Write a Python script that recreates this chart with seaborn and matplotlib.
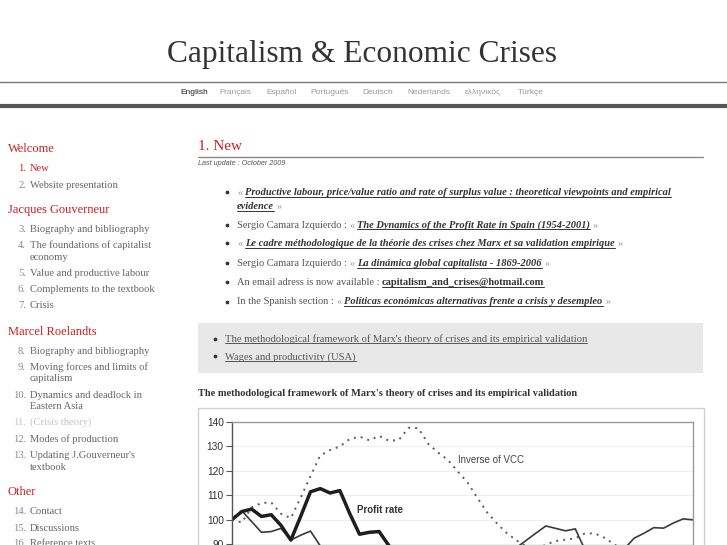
import pandas as pd
import seaborn as sns
from matplotlib import pyplot as plt
from matplotlib.lines import Line2D
from matplotlib.patches import Rectangle

periods = list(range(48))
profit_rate = [100, 103.3, 104.3, 101.3, 102, 97.6, 91.6, 101.3, 111.4, 112.7,
               110.9, 111.9, 102.5, 94, 94.8, 95.1, 89.3, 86, 84.5, 85,
               83, 81, 80, 79, 78, 77, 76, 77, 78, 79,
               81, 83, 86, 86, 85, 86, 82, 81, 79, 78,
               79, 81, 82, 83, 82, 83, 84, 83]
inverse_vcc = [100, 98.8, 105, 106.8, 107, 102.4, 100.6, 109, 117.8, 126.3,
               128.5, 130, 133, 134, 132.5, 134.3, 132.3, 132.6, 137.6, 137.5,
               131.1, 127.5, 124.5, 119.8, 115.3, 109, 103, 98.5, 94.5, 91.5,
               89, 87.5, 89.8, 91.2, 91.8, 92.3, 94.4, 94.3, 92.5, 89.8,
               87, 86, 85, 84.5, 84, 83.5, 83, 82]
surplus_rate = [100, 103.6, 99.2, 94.8, 95.1, 96.4, 91.6, 93.6, 95.3, 89.2,
                87, 86, 85.5, 83, 84, 83.5, 84, 83, 82, 83,
                84, 83, 84, 85, 86, 87, 87.5, 87, 86, 88.5,
                91.5, 94.5, 97.4, 96.4, 95.4, 96.2, 87.5, 86, 85.5, 85,
                88, 92.4, 94.4, 96.7, 96.5, 98.6, 100.3, 99.9]
y_ticks = [90, 100, 110, 120, 130, 140]

languages = ["English", "Français", "Español", "Português", "Deutsch",
             "Nederlands", "ελληνικός", "Türkçe"]

sns.set_style("white")
plt.rcParams['font.family'] = ['Liberation Serif', 'DejaVu Serif']

W, H = 727, 545
fig = plt.figure(figsize=(7.27, 5.45), dpi=100)
fig.patch.set_facecolor('white')
rend = fig.canvas.get_renderer()

RED = '#cc1f1f'


def fx(x):
    return x / W


def fy(y):
    return 1 - y / H


def hline(x0, x1, y, color, lw):
    fig.add_artist(Line2D([fx(x0), fx(x1)], [fy(y), fy(y)], color=color, lw=lw))


_sp_cache = {}


def space_w(props):
    key = tuple(sorted(props.items()))
    if key not in _sp_cache:
        a = fig.text(0, 0, 'x x', **props)
        b = fig.text(0, 0, 'xx', **props)
        _sp_cache[key] = a.get_window_extent(rend).width - b.get_window_extent(rend).width
        a.remove()
        b.remove()
    return _sp_cache[key]


STYLES = {
    'txt': dict(color='#555555'),
    'q': dict(color='#999999'),
    'link': dict(color='#333333', weight='bold', style='italic', underline=True),
    'mail': dict(color='#333333', weight='bold', underline=True),
    'ulink': dict(color='#555555', underline=True),
    'head': dict(color='#333333', weight='bold'),
}


def run(x, y, parts, size=7.45):
    # draws text pieces of mixed style one after the other on a baseline y
    for txt, style in parts:
        props = dict(family='Liberation Serif', size=size)
        props.update(STYLES[style])
        ul = props.pop('underline', False)
        lead = len(txt) - len(txt.lstrip(' '))
        trail = len(txt) - len(txt.rstrip(' '))
        core = txt.strip(' ')
        sp = space_w(props)
        x += lead * sp
        if core:
            t = fig.text(fx(x), fy(y), core, ha='left', va='baseline', **props)
            w = t.get_window_extent(rend).width
            if ul:
                hline(x, x + w, y + 1.6, props['color'], 0.7)
            x += w
        x += trail * sp
    return x


def bullet(x, y):
    fig.add_artist(Line2D([fx(x)], [fy(y)], marker='o', ms=1.7, color='#333333', lw=0))


# ---- header
fig.text(fx(362), fy(62), 'Capitalism & Economic Crises', ha='center', va='baseline',
         size=22.6, color='#333333')
hline(0, W, 82, '#777777', 1.0)
lang_x = [180, 219, 266, 310, 362, 407, 465, 518]
for lx, name in zip(lang_x, languages):
    fig.text(fx(lx), fy(94), name, ha='left', va='baseline', size=6,
             family=['Liberation Sans', 'DejaVu Sans'],
             color='#222222' if name == 'English' else '#999999')
hline(0, W, 105.5, '#555555', 3.0)

# ---- sidebar
sidebar = [
    ('h', None, 'Welcome', 151.5),
    ('r', '1.', 'New', 170.8),
    ('i', '2.', 'Website presentation', 187.5),
    ('h', None, 'Jacques Gouverneur', 213.5),
    ('i', '3.', 'Biography and bibliography', 231.8),
    ('i', '4.', 'The foundations of capitalist', 248.5),
    ('i', None, 'economy', 259.5),
    ('i', '5.', 'Value and productive labour', 276.2),
    ('i', '6.', 'Complements to the textbook', 292.5),
    ('i', '7.', 'Crisis', 308.5),
    ('h', None, 'Marcel Roelandts', 335),
    ('i', '8.', 'Biography and bibliography', 353.5),
    ('i', '9.', 'Moving forces and limits of', 370.2),
    ('i', None, 'capitalism', 381.2),
    ('i', '10.', 'Dynamics and deadlock in', 397.5),
    ('i', None, 'Eastern Asia', 408.8),
    ('g', '11.', '(Crisis theory)', 425.2),
    ('i', '12.', 'Modes of production', 441.8),
    ('i', '13.', "Updating J.Gouverneur's", 458.5),
    ('i', None, 'textbook', 469.5),
    ('h', None, 'Other', 495.3),
    ('i', '14.', 'Contact', 514.2),
    ('i', '15.', 'Discussions', 530.8),
    ('i', '16.', 'Reference texts', 546.5),
]
for kind, num, label, yb in sidebar:
    if kind == 'h':
        fig.text(fx(8), fy(yb), label, ha='left', va='baseline', size=9, color=RED)
        continue
    col = {'r': RED, 'i': '#666666', 'g': '#c4c4c4'}[kind]
    ncol = {'r': RED, 'i': '#888888', 'g': '#c4c4c4'}[kind]
    if num:
        fig.text(fx(26), fy(yb), num, ha='right', va='baseline', size=7.6, color=ncol)
    fig.text(fx(30), fy(yb), label, ha='left', va='baseline', size=7.6, color=col)

# ---- main column
fig.text(fx(198), fy(150.5), '1. New', ha='left', va='baseline', size=11, color=RED)
hline(198, 703, 157, '#888888', 1.0)
fig.text(fx(198), fy(165), 'Last update : October 2009', ha='left', va='baseline', size=5.2,
         family='Liberation Sans', style='italic', color='#555555')

news = [
    (195.3, [('« ', 'q'), ('Productive labour, price/value ratio and rate of surplus value : '
                          'theoretical viewpoints and empirical', 'link')]),
    (209.5, [('evidence', 'link'), (' »', 'q')]),
    (227.8, [('Sergio Camara Izquierdo : ', 'txt'), ('« ', 'q'),
             ('The Dynamics of the Profit Rate in Spain (1954-2001)', 'link'), (' »', 'q')]),
    (246.2, [('« ', 'q'), ('Le cadre méthodologique de la théorie des crises chez Marx '
                          'et sa validation empirique', 'link'), (' »', 'q')]),
    (266.2, [('Sergio Camara Izquierdo : ', 'txt'), ('« ', 'q'),
             ('La dinámica global capitalista - 1869-2006', 'link'), (' »', 'q')]),
    (285.2, [('An email adress is now available : ', 'txt'),
             ('capitalism_and_crises@hotmail.com', 'mail')]),
    (304.5, [('In the Spanish section : ', 'txt'), ('« ', 'q'),
             ('Políticas económicas alternativas frente a crisis y desempleo', 'link'),
             (' »', 'q')]),
]
for i, (yb, parts) in enumerate(news):
    if i != 1:
        bullet(227, yb - 3.0)
    run(237, yb, parts)

fig.add_artist(Rectangle((fx(198), fy(373)), fx(703) - fx(198), fy(323) - fy(373),
                         transform=fig.transFigure, facecolor='#e8e8e8', edgecolor='none',
                         zorder=-2))
box_items = ["The methodological framework of Marx's theory of crises and its empirical validation",
             "Wages and productivity (USA)"]
for yb, item in zip([341.6, 359.3], box_items):
    bullet(215, yb - 3.0)
    run(225, yb, [(item, 'ulink')], size=7.55)

run(198, 396, [("The methodological framework of Marx's theory of crises and its empirical validation",
                'head')], size=7.5)

# ---- scanned chart
fig.add_artist(Rectangle((fx(198), fy(560)), fx(704) - fx(198), fy(408) - fy(560),
                         transform=fig.transFigure, facecolor='white', edgecolor='#d0d0d0',
                         lw=1, zorder=-2))

df = pd.DataFrame({'period': periods, 'Profit rate': profit_rate,
                   'Inverse of VCC': inverse_vcc, 'Rate of surplus value': surplus_rate})

px_per_unit = 2.44
ax = fig.add_axes([fx(232), fy(422 + 60 * px_per_unit), (693 - 232) / W, 60 * px_per_unit / H])
ax.set_zorder(1)
sns.lineplot(data=df, x='period', y='Inverse of VCC', ax=ax, color='#5a5a5a', lw=1.4,
             linestyle=(0, (1, 2.6)))
sns.lineplot(data=df, x='period', y='Rate of surplus value', ax=ax, color='#3a3a3a', lw=1.2)
sns.lineplot(data=df, x='period', y='Profit rate', ax=ax, color='#1e1e1e', lw=2.5)

ax.set_xlim(0, 47)
ax.set_ylim(80, 140)
ax.set_xticks([])
ax.set_yticks(y_ticks)
ax.set_xlabel('')
ax.set_ylabel('')
ax.grid(axis='y', color='#efefef', lw=0.8)
ax.set_axisbelow(True)
ax.tick_params(axis='y', length=4, width=0.8, color='#555555', pad=2, labelsize=7.3,
               labelcolor='#333333', left=True)
for lbl in ax.get_yticklabels():
    lbl.set_family('Liberation Sans')
ax.spines['bottom'].set_visible(False)
ax.spines['left'].set_color('#555555')
ax.spines['top'].set_color('#9a9a9a')
ax.spines['right'].set_color('#9a9a9a')
for s in ['left', 'top', 'right']:
    ax.spines[s].set_linewidth(1.0)
ax.patch.set_alpha(0)

ax.text(12.75, 103.9, 'Profit rate', va='center', ha='left', family='Liberation Sans',
        weight='bold', size=7, color='#333333')
ax.text(23.05, 124.4, 'Inverse of VCC', va='center', ha='left', family='Liberation Sans',
        size=7, color='#444444')

plt.savefig('out.png', dpi=100)
